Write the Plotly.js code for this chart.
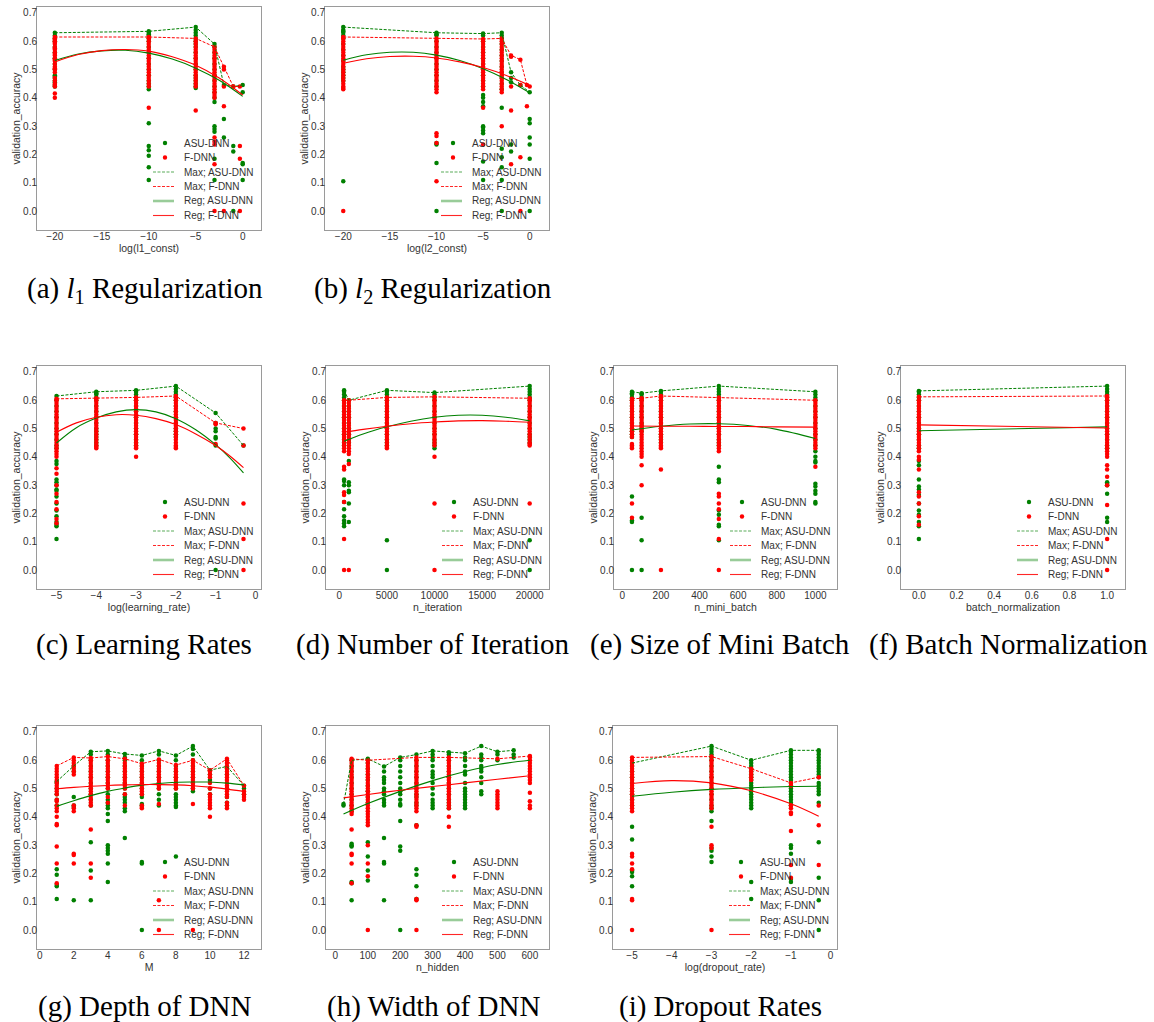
<!DOCTYPE html>
<html><head><meta charset="utf-8">
<script src="https://cdn.plot.ly/plotly-3.0.1.min.js"></script>
<style>html,body{margin:0;padding:0;background:#fff}#chart{width:1154px;height:1022px}</style>
</head><body><div id="chart"></div>
<script>
// ===== DATA =====
// (a) l1 regularization
const a_asu_x = [-20, -10, -5, -3, -2, -1, 0];
const a_asu = [
 [0.63,0.62,0.61,0.60,0.58,0.56,0.54,0.52,0.50,0.48,0.475,0.47,0.46,0.455,0.445,0.44],
 [0.635,0.63,0.625,0.62,0.61,0.60,0.58,0.56,0.54,0.52,0.50,0.48,0.46,0.45,0.44,0.43,0.31,0.23,0.215,0.195,0.155,0.11],
 [0.65,0.64,0.63,0.62,0.61,0.60,0.59,0.58,0.56,0.54,0.52,0.50,0.48,0.47,0.46,0.45,0.44,0.435],
 [0.59,0.58,0.56,0.54,0.52,0.50,0.48,0.46,0.44,0.42,0.40,0.385,0.30,0.29,0.28,0.185,0.11],
 [0.445,0.325,0.26],
 [0.44,0.23,0.21,0.0],
 [0.445,0.42,0.17,0.165,0.11]
];
const a_f_x = [-20, -10, -5, -3, -2, -1, -0.3];
const a_f = [
 [0.615,0.61,0.605,0.60,0.595,0.59,0.58,0.575,0.57,0.56,0.555,0.55,0.54,0.535,0.53,0.52,0.51,0.505,0.50,0.49,0.47,0.46,0.45,0.445,0.44,0.415,0.40],
 [0.615,0.61,0.60,0.59,0.58,0.57,0.56,0.55,0.54,0.53,0.52,0.51,0.50,0.49,0.48,0.47,0.46,0.45,0.44,0.365],
 [0.61,0.60,0.59,0.58,0.57,0.56,0.55,0.54,0.53,0.52,0.51,0.50,0.49,0.48,0.47,0.46,0.45,0.44,0.355],
 [0.58,0.57,0.56,0.55,0.54,0.53,0.52,0.51,0.50,0.49,0.48,0.47,0.46,0.45,0.44,0.43,0.42,0.41,0.40,0.26,0.245,0.235,0.165,0.0],
 [0.51,0.50,0.44,0.37,0.0],
 [0.44],
 [0.44,0.23,0.185,0.0]
];
const a_reg_x = [-20,-17.5,-15,-12.5,-10,-7.5,-5,-2.5,0];
const a_reg_asu = [0.532,0.555,0.566,0.568,0.558,0.537,0.505,0.462,0.405];
const a_reg_f = [0.527,0.553,0.567,0.571,0.565,0.545,0.515,0.47,0.41];

// (b) l2 regularization
const b_asu_x = [-20, -10, -5, -3, -2, -1, 0];
const b_asu = [
 [0.65,0.64,0.635,0.63,0.62,0.61,0.59,0.57,0.55,0.53,0.51,0.50,0.49,0.48,0.47,0.46,0.105],
 [0.63,0.625,0.62,0.60,0.58,0.56,0.54,0.52,0.50,0.48,0.46,0.44,0.24,0.235,0.17,0.0],
 [0.627,0.62,0.60,0.58,0.56,0.54,0.52,0.50,0.48,0.46,0.44,0.41,0.40,0.385,0.37,0.30,0.295,0.285,0.275,0.175,0.11],
 [0.63,0.62,0.61,0.59,0.57,0.55,0.53,0.51,0.49,0.47,0.45,0.43,0.365,0.22,0.19,0.155,0.11,0.0],
 [0.49,0.47,0.455,0.235,0.21],
 [0.445],
 [0.42,0.325,0.31,0.26,0.235,0.185,0.0]
];
const b_f_x = [-20, -10, -5, -3, -2, -1, -0.3, 0];
const b_f = [
 [0.615,0.61,0.60,0.59,0.58,0.57,0.56,0.55,0.54,0.53,0.52,0.51,0.50,0.49,0.48,0.47,0.46,0.45,0.44,0.435,0.43,0.0],
 [0.61,0.60,0.59,0.58,0.57,0.56,0.55,0.54,0.53,0.52,0.51,0.50,0.49,0.48,0.47,0.46,0.45,0.44,0.43,0.42,0.275,0.265,0.24,0.105],
 [0.608,0.60,0.59,0.58,0.57,0.56,0.55,0.54,0.53,0.52,0.51,0.50,0.49,0.48,0.47,0.46,0.45,0.44,0.43,0.365,0.235],
 [0.61,0.60,0.59,0.58,0.57,0.56,0.55,0.54,0.53,0.52,0.51,0.50,0.49,0.48,0.47,0.46,0.45,0.44,0.43,0.42,0.30],
 [0.55,0.545,0.44,0.355,0.165],
 [0.535,0.445,0.19,0.0],
 [0.445,0.37],
 [0.44]
];
const b_reg_x = [-20,-17.5,-15,-12.5,-10,-7.5,-5,-2.5,0];
const b_reg_asu = [0.533,0.552,0.561,0.561,0.551,0.532,0.503,0.465,0.418];
const b_reg_f = [0.522,0.538,0.546,0.547,0.541,0.527,0.507,0.479,0.444];

// (c) learning rate
const c_x = [-5, -4, -3, -2, -1, -0.3];
const c_asu = [
 [0.615,0.60,0.58,0.56,0.54,0.52,0.50,0.48,0.46,0.44,0.43,0.385,0.375,0.32,0.31,0.30,0.285,0.28,0.26,0.235,0.21,0.19,0.17,0.16,0.155,0.11],
 [0.63,0.625,0.62,0.61,0.60,0.58,0.56,0.54,0.52,0.50,0.49,0.48,0.47,0.46,0.45,0.44],
 [0.635,0.63,0.62,0.61,0.60,0.58,0.56,0.54,0.52,0.50,0.48,0.46,0.45,0.44],
 [0.65,0.64,0.63,0.62,0.61,0.60,0.58,0.56,0.54,0.52,0.50,0.49,0.48,0.47],
 [0.555,0.52,0.50,0.49,0.47,0.465,0.44,0.0],
 [0.44]
];
const c_f = [
 [0.605,0.60,0.59,0.58,0.57,0.56,0.55,0.54,0.53,0.52,0.51,0.50,0.49,0.48,0.47,0.46,0.45,0.44,0.43,0.42,0.41,0.40,0.36,0.34,0.30,0.27,0.24,0.215,0.18,0.165],
 [0.607,0.60,0.59,0.58,0.57,0.56,0.55,0.54,0.53,0.52,0.51,0.50,0.49,0.48,0.47,0.46,0.45,0.44,0.435,0.43],
 [0.61,0.60,0.59,0.58,0.57,0.56,0.55,0.54,0.53,0.52,0.51,0.50,0.49,0.48,0.47,0.46,0.45,0.44,0.435,0.43,0.40],
 [0.615,0.61,0.60,0.59,0.58,0.57,0.56,0.55,0.54,0.53,0.52,0.51,0.50,0.49,0.48,0.47,0.46,0.45,0.44,0.435,0.43],
 [0.52,0.515,0.445],
 [0.50,0.44,0.235,0.11,0.0]
];
const c_reg_x = [-5,-4.5,-4,-3.5,-3,-2.5,-2,-1.5,-1,-0.65,-0.3];
const c_reg_asu = [0.449,0.503,0.537,0.559,0.567,0.559,0.535,0.496,0.443,0.397,0.343];
const c_reg_f = [0.487,0.520,0.540,0.549,0.547,0.535,0.514,0.481,0.440,0.404,0.362];

// (d) n_iteration
const d_x = [500, 1000, 5000, 10000, 20000];
const d_asu = [
 [0.635,0.63,0.62,0.61,0.60,0.58,0.56,0.54,0.52,0.50,0.48,0.46,0.45,0.44,0.32,0.315,0.30,0.24,0.215,0.19,0.175,0.165,0.155],
 [0.60,0.58,0.56,0.54,0.52,0.50,0.48,0.46,0.45,0.385,0.31,0.30,0.28,0.275,0.235,0.17],
 [0.635,0.63,0.62,0.61,0.60,0.58,0.56,0.54,0.52,0.50,0.48,0.46,0.45,0.44,0.105,0.0],
 [0.627,0.62,0.61,0.60,0.58,0.56,0.54,0.52,0.50,0.48,0.46,0.45,0.44,0.43],
 [0.65,0.64,0.63,0.62,0.61,0.60,0.58,0.56,0.54,0.52,0.50,0.48,0.47,0.46,0.45,0.105,0.0]
];
const d_f = [
 [0.60,0.59,0.58,0.57,0.56,0.55,0.54,0.53,0.52,0.51,0.50,0.49,0.48,0.47,0.46,0.45,0.44,0.43,0.42,0.365,0.355,0.275,0.265,0.24,0.11,0.0],
 [0.60,0.59,0.58,0.57,0.56,0.55,0.54,0.53,0.52,0.51,0.50,0.49,0.48,0.47,0.46,0.45,0.44,0.43,0.42,0.41,0.375,0.0],
 [0.61,0.60,0.59,0.58,0.57,0.56,0.55,0.54,0.53,0.52,0.51,0.50,0.49,0.48,0.47,0.46,0.45,0.44,0.435,0.43],
 [0.612,0.60,0.59,0.58,0.57,0.56,0.55,0.54,0.53,0.52,0.51,0.50,0.49,0.48,0.47,0.46,0.45,0.44,0.40,0.235,0.0],
 [0.607,0.60,0.59,0.58,0.57,0.56,0.55,0.54,0.53,0.52,0.51,0.50,0.49,0.48,0.47,0.46,0.45,0.445,0.44,0.235]
];
const d_reg_x = [500,2500,5000,7500,10000,12500,15000,17500,20000];
const d_reg_asu = [0.455,0.481,0.506,0.526,0.540,0.547,0.547,0.540,0.527];
const d_reg_f = [0.487,0.497,0.508,0.517,0.523,0.527,0.528,0.526,0.522];

// (e) n_mini_batch
const e_x = [50, 100, 200, 500, 1000];
const e_asu = [
 [0.63,0.625,0.62,0.61,0.60,0.58,0.56,0.54,0.52,0.50,0.49,0.48,0.47,0.26,0.175,0.17,0.0],
 [0.625,0.62,0.61,0.60,0.58,0.56,0.54,0.52,0.51,0.50,0.49,0.185,0.105,0.0],
 [0.633,0.63,0.62,0.61,0.60,0.58,0.56,0.54,0.52,0.50,0.48,0.47,0.46,0.45],
 [0.65,0.64,0.63,0.62,0.61,0.60,0.58,0.56,0.54,0.52,0.50,0.48,0.46,0.45,0.44,0.365,0.32,0.31,0.21,0.195,0.16,0.155,0.105],
 [0.63,0.62,0.61,0.60,0.58,0.56,0.54,0.52,0.50,0.48,0.46,0.44,0.42,0.40,0.385,0.38,0.305,0.295,0.28,0.27,0.24,0.235]
];
const e_f = [
 [0.605,0.60,0.59,0.58,0.57,0.56,0.55,0.54,0.53,0.52,0.51,0.50,0.49,0.48,0.47,0.445,0.44,0.435,0.43,0.235,0.185],
 [0.607,0.60,0.59,0.58,0.57,0.56,0.55,0.54,0.53,0.52,0.51,0.50,0.49,0.48,0.47,0.46,0.45,0.44,0.43,0.42,0.41,0.40,0.37,0.30],
 [0.615,0.61,0.60,0.59,0.58,0.57,0.56,0.55,0.54,0.53,0.52,0.51,0.50,0.49,0.48,0.47,0.46,0.45,0.44,0.435,0.43,0.355,0.0],
 [0.61,0.60,0.59,0.58,0.57,0.56,0.55,0.54,0.53,0.52,0.51,0.50,0.49,0.48,0.47,0.46,0.45,0.44,0.43,0.42,0.27,0.26,0.235,0.215,0.18,0.11,0.0],
 [0.60,0.59,0.58,0.57,0.56,0.55,0.54,0.53,0.52,0.51,0.50,0.49,0.48,0.47,0.46,0.45,0.44,0.43,0.365]
];
const e_reg_x = [50,200,350,500,650,800,1000];
const e_reg_asu = [0.495,0.508,0.516,0.517,0.511,0.497,0.465];
const e_reg_f = [0.509,0.508,0.508,0.507,0.507,0.506,0.505];

// (f) batch_normalization
const f_x = [0, 1];
const f_asu = [
 [0.633,0.63,0.62,0.61,0.60,0.58,0.56,0.54,0.52,0.50,0.48,0.46,0.44,0.43,0.385,0.37,0.32,0.295,0.285,0.265,0.235,0.21,0.195,0.17,0.155,0.11],
 [0.65,0.64,0.63,0.62,0.61,0.60,0.58,0.56,0.54,0.52,0.50,0.48,0.46,0.44,0.43,0.31,0.305,0.30,0.27,0.185,0.17]
];
const f_f = [
 [0.612,0.60,0.59,0.58,0.57,0.56,0.55,0.54,0.53,0.52,0.51,0.50,0.49,0.48,0.47,0.46,0.45,0.44,0.43,0.42,0.40,0.39,0.355,0.275,0.26,0.235,0.19,0.16],
 [0.615,0.61,0.60,0.59,0.58,0.57,0.56,0.55,0.54,0.53,0.52,0.51,0.50,0.49,0.48,0.47,0.46,0.45,0.44,0.43,0.42,0.41,0.40,0.37,0.355,0.33,0.30,0.23,0.11,0.0]
];
const f_reg_x = [0, 1];
const f_reg_asu = [0.492, 0.506];
const f_reg_f = [0.513, 0.502];

// (g) depth M
const g_x = [1,2,3,4,5,6,7,8,9,10,11,12];
const g_asu = [
 [0.525,0.52,0.50,0.48,0.46,0.44,0.215,0.195,0.16,0.155,0.11],
 [0.58,0.56,0.47,0.44,0.435,0.105],
 [0.63,0.62,0.60,0.58,0.56,0.54,0.52,0.50,0.48,0.46,0.44,0.31,0.21,0.105],
 [0.633,0.62,0.60,0.58,0.56,0.54,0.52,0.50,0.48,0.46,0.45,0.44,0.43,0.41,0.385,0.30,0.29,0.28,0.27,0.235,0.17],
 [0.622,0.61,0.60,0.58,0.56,0.54,0.52,0.50,0.48,0.47,0.46,0.45,0.43,0.42,0.325],
 [0.617,0.60,0.58,0.56,0.54,0.52,0.50,0.48,0.47,0.445,0.44,0.24,0.235,0.0],
 [0.633,0.62,0.60,0.58,0.56,0.54,0.52,0.50,0.48,0.46,0.44],
 [0.617,0.60,0.58,0.56,0.54,0.52,0.50,0.48,0.47,0.46,0.45,0.44,0.435,0.26],
 [0.65,0.64,0.62,0.60,0.58,0.56,0.54,0.52,0.50,0.49],
 [0.565,0.55,0.53,0.50,0.48],
 [0.578,0.57,0.55,0.50,0.47,0.45,0.44],
 [0.51,0.50,0.48]
];
const g_f = [
 [0.58,0.57,0.56,0.55,0.54,0.53,0.52,0.51,0.50,0.49,0.48,0.46,0.455,0.44,0.43,0.42,0.40,0.375,0.37,0.295,0.235,0.165],
 [0.61,0.60,0.59,0.58,0.57,0.56,0.55,0.44,0.43,0.42,0.27,0.265,0.235],
 [0.608,0.60,0.59,0.58,0.57,0.56,0.55,0.54,0.53,0.52,0.51,0.50,0.49,0.48,0.47,0.46,0.45,0.44,0.355,0.235,0.185],
 [0.613,0.60,0.59,0.58,0.57,0.56,0.55,0.54,0.53,0.52,0.51,0.50,0.47,0.45],
 [0.605,0.59,0.58,0.57,0.56,0.55,0.54,0.53,0.52,0.51,0.50,0.48,0.44],
 [0.588,0.58,0.57,0.56,0.55,0.54,0.53,0.52,0.51,0.50,0.49,0.48,0.44,0.435,0.43],
 [0.603,0.59,0.58,0.57,0.56,0.55,0.54,0.53,0.52,0.51,0.50,0.445,0.105,0.0],
 [0.583,0.57,0.56,0.55,0.54,0.53,0.52,0.51,0.50],
 [0.60,0.59,0.58,0.57,0.56,0.55,0.54,0.53,0.52,0.51,0.50,0.445,0.0],
 [0.565,0.56,0.55,0.54,0.52,0.50,0.48,0.47,0.46,0.45,0.44,0.43,0.40],
 [0.605,0.60,0.59,0.58,0.57,0.56,0.55,0.54,0.53,0.52,0.51,0.50,0.49,0.48,0.47,0.45,0.44,0.43],
 [0.51,0.49,0.48,0.47,0.46]
];
const g_reg_x = [1,2,3,4,5,6,7,8,9,10,11,12];
const g_reg_asu = [0.437,0.457,0.475,0.49,0.502,0.512,0.518,0.522,0.523,0.523,0.519,0.513];
const g_reg_f = [0.499,0.504,0.508,0.511,0.513,0.514,0.514,0.513,0.510,0.505,0.498,0.49];

// (h) n_hidden
const h_asu_x = [25,50,100,150,200,250,300,350,400,450,500,550];
const h_asu = [
 [0.445,0.44],
 [0.60,0.58,0.56,0.54,0.52,0.50,0.48,0.46,0.44,0.42,0.305,0.30,0.295,0.17,0.165,0.105],
 [0.605,0.59,0.57,0.55,0.53,0.51,0.49,0.47,0.45,0.31,0.26,0.21,0.175],
 [0.578,0.56,0.54,0.53,0.52,0.50,0.49,0.48,0.46,0.45,0.44,0.325,0.24,0.235,0.105],
 [0.61,0.60,0.58,0.56,0.54,0.52,0.50,0.49,0.48,0.46,0.445,0.44,0.385,0.295,0.28,0.0],
 [0.62,0.60,0.58,0.56,0.54,0.52,0.50,0.48,0.47,0.45,0.44,0.37,0.215,0.195,0.155,0.11],
 [0.633,0.62,0.61,0.60,0.58,0.56,0.55,0.54,0.52,0.50,0.48,0.46,0.45,0.44,0.43],
 [0.628,0.62,0.60,0.58,0.56,0.54,0.52,0.50,0.48,0.46,0.45,0.44,0.43],
 [0.625,0.61,0.60,0.58,0.56,0.55,0.52,0.50,0.49,0.48,0.47,0.46,0.45,0.44,0.43],
 [0.65,0.62,0.61,0.60,0.58,0.57,0.56,0.54,0.52,0.49,0.48],
 [0.63,0.62,0.60],
 [0.635,0.62,0.61]
];
const h_f_x = [50,100,250,350,500,600];
const h_f = [
 [0.605,0.60,0.59,0.58,0.57,0.56,0.55,0.54,0.53,0.52,0.51,0.50,0.49,0.48,0.47,0.46,0.45,0.44,0.43,0.42,0.41,0.355,0.27,0.265,0.235,0.165],
 [0.60,0.59,0.58,0.57,0.56,0.55,0.54,0.53,0.52,0.51,0.50,0.49,0.48,0.47,0.46,0.45,0.44,0.43,0.42,0.41,0.40,0.39,0.38,0.37,0.30,0.235,0.19,0.0],
 [0.61,0.60,0.59,0.58,0.57,0.56,0.55,0.54,0.53,0.52,0.51,0.50,0.49,0.48,0.47,0.46,0.45,0.44,0.43,0.42,0.37,0.365,0.11,0.105,0.0],
 [0.61,0.60,0.59,0.58,0.57,0.56,0.55,0.54,0.53,0.52,0.51,0.50,0.49,0.48,0.47,0.46,0.45,0.44,0.43,0.40,0.365],
 [0.605,0.49,0.48,0.47,0.46,0.45,0.44,0.43],
 [0.615,0.61,0.60,0.59,0.58,0.57,0.56,0.55,0.54,0.53,0.52,0.485,0.455,0.44,0.43]
];
const h_reg_x = [25,100,200,300,400,500,600];
const h_reg_asu = [0.41,0.447,0.49,0.528,0.56,0.585,0.60];
const h_reg_f = [0.467,0.479,0.494,0.507,0.52,0.533,0.545];

// (i) dropout rate
const i_x = [-5, -3, -2, -1, -0.3];
const i_asu = [
 [0.59,0.58,0.56,0.54,0.52,0.50,0.48,0.46,0.44,0.365,0.32,0.21,0.205,0.19,0.155],
 [0.65,0.64,0.63,0.62,0.61,0.60,0.58,0.56,0.54,0.52,0.50,0.48,0.46,0.44,0.43,0.42,0.385,0.29,0.28,0.26,0.24],
 [0.60,0.59,0.58,0.57,0.56,0.55,0.54,0.53,0.52,0.51,0.50,0.49,0.48,0.47,0.46,0.45,0.44,0.43,0.17,0.11],
 [0.635,0.63,0.62,0.61,0.60,0.59,0.58,0.57,0.56,0.55,0.54,0.53,0.52,0.51,0.50,0.49,0.48,0.47,0.46,0.45,0.44,0.30,0.29,0.27,0.18,0.17],
 [0.635,0.63,0.62,0.61,0.60,0.59,0.58,0.57,0.56,0.55,0.54,0.52,0.51,0.50,0.49,0.48,0.45,0.31,0.185,0.105,0.0]
];
const i_f = [
 [0.61,0.60,0.59,0.58,0.57,0.56,0.55,0.54,0.53,0.52,0.51,0.50,0.49,0.48,0.47,0.46,0.45,0.44,0.43,0.42,0.27,0.26,0.235,0.215,0.11,0.105,0.0],
 [0.613,0.60,0.59,0.58,0.57,0.56,0.55,0.54,0.53,0.52,0.51,0.50,0.49,0.48,0.47,0.46,0.45,0.44,0.43,0.365,0.30,0.29,0.0],
 [0.57,0.56,0.55,0.54,0.53],
 [0.52,0.51,0.44,0.43,0.415,0.41,0.35,0.23,0.185],
 [0.54,0.44,0.37,0.23]
];
const i_reg_x = [-5,-4,-3,-2,-1,-0.3];
const i_reg_asu = [0.473,0.487,0.497,0.503,0.507,0.508];
const i_reg_f = [0.518,0.528,0.52,0.492,0.446,0.402];

const legendLabels = ['ASU-DNN','F-DNN','Max; ASU-DNN','Max; F-DNN','Reg; ASU-DNN','Reg; F-DNN'];
const yTickVals = [0.0,0.1,0.2,0.3,0.4,0.5,0.6,0.7];

// ===== LAYOUT / STYLE =====
const W = 1154, H = 1022;
const GREEN = '#008000', RED = '#ff0000';
const SANS = 'Liberation Sans, Arial, sans-serif';
const SERIF = 'Liberation Serif, Times New Roman, serif';

const panels = [
 {box:[37,261,7,230], xr:[-21.9,1.95], dtick:5, tick0:0, xt:'log(l1_const)', ax:a_asu_x, a:a_asu, fx:a_f_x, f:a_f, rx:a_reg_x, ra:a_reg_asu, rf:a_reg_f, cap:'(a) <i>l</i><sub>1</sub> Regularization', cp:[145,290]},
 {box:[325,549,7,230], xr:[-21.96,2.07], dtick:5, tick0:0, xt:'log(l2_const)', ax:b_asu_x, a:b_asu, fx:b_f_x, f:b_f, rx:b_reg_x, ra:b_reg_asu, rf:b_reg_f, cap:'(b) <i>l</i><sub>2</sub> Regularization', cp:[433,290]},
 {box:[37,261,366,589], xr:[-5.49,0.14], dtick:1, tick0:0, xt:'log(learning_rate)', ax:c_x, a:c_asu, fx:c_x, f:c_f, rx:c_reg_x, ra:c_reg_asu, rf:c_reg_f, cap:'(c) Learning Rates', cp:[144,644]},
 {box:[326,549,366,589], xr:[-1400,22030], dtick:5000, tick0:0, fmt:'d', xt:'n_iteration', ax:d_x, a:d_asu, fx:d_x, f:d_f, rx:d_reg_x, ra:d_reg_asu, rf:d_reg_f, cap:'(d) Number of Iteration', cp:[432,644]},
 {box:[614,837,366,589], xr:[-43,1112], dtick:200, tick0:0, xt:'n_mini_batch', ax:e_x, a:e_asu, fx:e_x, f:e_f, rx:e_reg_x, ra:e_reg_asu, rf:e_reg_f, cap:'(e) Size of Mini Batch', cp:[720,644]},
 {box:[901,1125,366,589], xr:[-0.095,1.095], dtick:0.2, tick0:0, fmt:'.1f', xt:'batch_normalization', ax:f_x, a:f_asu, fx:f_x, f:f_f, rx:f_reg_x, ra:f_reg_asu, rf:f_reg_f, cap:'(f) Batch Normalization', cp:[1009,644]},
 {box:[37,261,726,949], xr:[-0.16,13.0], dtick:2, tick0:0, xt:'M', ax:g_x, a:g_asu, fx:g_x, f:g_f, rx:g_reg_x, ra:g_reg_asu, rf:g_reg_f, cap:'(g) Depth of DNN', cp:[144,1006]},
 {box:[326,549,726,949], xr:[-29,659], dtick:100, tick0:0, xt:'n_hidden', ax:h_asu_x, a:h_asu, fx:h_f_x, f:h_f, rx:h_reg_x, ra:h_reg_asu, rf:h_reg_f, cap:'(h) Width of DNN', cp:[433,1006]},
 {box:[613,837,726,949], xr:[-5.48,0.16], dtick:1, tick0:0, xt:'log(dropout_rate)', ax:i_x, a:i_asu, fx:i_x, f:i_f, rx:i_reg_x, ra:i_reg_asu, rf:i_reg_f, cap:'(i) Dropout Rates', cp:[721,1006]}
];

function flatX(cats, cols){ const out=[]; cols.forEach((c,k)=>c.forEach(()=>out.push(cats[k]))); return out; }
function flatY(cols){ const out=[]; cols.forEach(c=>c.forEach(v=>out.push(v))); return out; }
function colMax(cols){ return cols.map(c=>Math.max.apply(null,c)); }

const traces = [], layout = {
  width:W, height:H, margin:{l:0,r:0,t:0,b:0}, paper_bgcolor:'#fff', plot_bgcolor:'#fff',
  showlegend:false, font:{family:SANS, color:'#333'}, shapes:[], annotations:[]
};

panels.forEach((p,idx)=>{
  const n = idx===0 ? '' : String(idx+1);
  const xa = 'x'+n, ya = 'y'+n;
  const [L,R,T,B] = p.box;
  const common = {xaxis:xa, yaxis:ya, hoverinfo:'skip'};
  traces.push(Object.assign({type:'scatter', mode:'markers', name:'ASU-DNN', x:flatX(p.ax,p.a), y:flatY(p.a), marker:{color:GREEN,size:4.5,line:{width:0}}}, common));
  traces.push(Object.assign({type:'scatter', mode:'markers', name:'F-DNN', x:flatX(p.fx,p.f), y:flatY(p.f), marker:{color:RED,size:4.5,line:{width:0}}}, common));
  traces.push(Object.assign({type:'scatter', mode:'lines', name:'Max; ASU-DNN', x:p.ax, y:colMax(p.a), line:{color:GREEN,width:1,dash:'3px,1.5px'}}, common));
  traces.push(Object.assign({type:'scatter', mode:'lines', name:'Max; F-DNN', x:p.fx, y:colMax(p.f), line:{color:RED,width:1,dash:'3px,1.5px'}}, common));
  traces.push(Object.assign({type:'scatter', mode:'lines', name:'Reg; ASU-DNN', x:p.rx, y:p.ra, line:{color:GREEN,width:1.1,shape:'spline'}}, common));
  traces.push(Object.assign({type:'scatter', mode:'lines', name:'Reg; F-DNN', x:p.rx, y:p.rf, line:{color:RED,width:1.1,shape:'spline'}}, common));

  const axBase = {showline:true, mirror:true, linecolor:'#9a9a9a', linewidth:1, ticks:'', showgrid:false, zeroline:false,
                  tickfont:{size:10, color:'#333', family:SANS}, ticklabelstandoff:-3};
  layout['xaxis'+n] = Object.assign({}, axBase, {domain:[L/W, R/W], anchor:ya, range:p.xr, tickmode:'linear', dtick:p.dtick, tick0:p.tick0,
      tickformat:p.fmt||'', title:{text:p.xt, font:{size:10.5,color:'#333',family:SANS}, standoff:2}});
  layout['yaxis'+n] = Object.assign({}, axBase, {domain:[1-B/H, 1-T/H], anchor:xa, range:[-0.067,0.721], tickmode:'array', tickvals:yTickVals,
      tickformat:'.1f', title:{text:'validation_accuracy', font:{size:10.5,color:'#333',family:SANS}, standoff:0}});

  // in-plot legend (no frame), drawn like the reference
  const rows = legendLabels.map((_,k)=> B - 14.5*(6-k));
  const px = v=>v/W, py = v=>1-v/H;
  rows.forEach((yy,k)=>{
    layout.annotations.push({xref:'paper', yref:'paper', x:px(L+145), y:py(yy), xanchor:'left', yanchor:'middle', showarrow:false,
      text:legendLabels[k], font:{size:10, color:'#333', family:SANS}});
  });
  [[GREEN,0],[RED,1]].forEach(([c,k])=>{
    layout.shapes.push({type:'circle', xref:'paper', yref:'paper', xsizemode:'pixel', ysizemode:'pixel',
      xanchor:px(L+128), yanchor:py(rows[k]), x0:-2.2, x1:2.2, y0:-2.2, y1:2.2, fillcolor:c, line:{width:0}});
  });
  const lineSpec = [[2,'rgba(0,128,0,0.65)',1.2,true],[3,'rgba(255,0,0,0.85)',1.2,true],[4,'rgba(0,128,0,0.4)',2.6,false],[5,'rgba(255,0,0,0.85)',1.1,false]];
  lineSpec.forEach(([k,c,w,dashed])=>{
    layout.shapes.push({type:'line', xref:'paper', yref:'paper', x0:px(L+116), x1:px(L+137), y0:py(rows[k]), y1:py(rows[k]),
      line:{color:c, width:w, dash:dashed?'3px,1.5px':'solid'}});
  });

  layout.annotations.push({xref:'paper', yref:'paper', x:p.cp[0]/W, y:1-p.cp[1]/H, xanchor:'center', yanchor:'middle', showarrow:false,
    text:p.cap, font:{size:29, color:'#000', family:SERIF}});
});

Plotly.newPlot('chart', traces, layout, {staticPlot:true, displayModeBar:false});
</script>
</body></html>
